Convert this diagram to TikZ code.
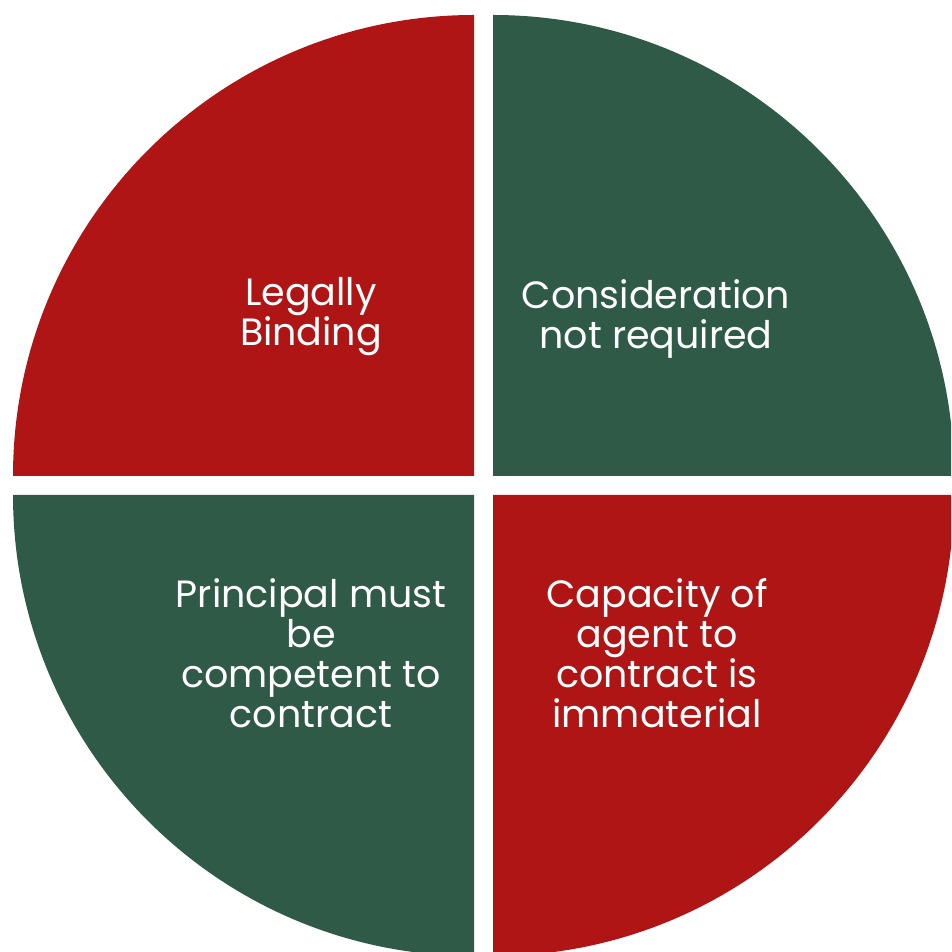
\documentclass[tikz,border=0pt]{standalone}
\usepackage{fontspec}
\setmainfont{Poppins}
\definecolor{quadred}{HTML}{B01515}
\definecolor{quadgreen}{HTML}{2F5A47}
\tikzset{
  quadlabel/.style={text=white, align=center, inner sep=0pt, font=\fontsize{38}{40}\selectfont}
}
\begin{document}
\begin{tikzpicture}[x=1pt,y=1pt]
\useasboundingbox (0,0) rectangle (951,952);
\clip (0,0) rectangle (951,952);
\fill[white] (0,0) rectangle (951,952);
% quarter circles
\fill[quadred]   (474,476) -- ++(-461,0) arc[start angle=180,end angle=90,radius=461] -- cycle;
\fill[quadgreen] (493,476) -- ++(0,461) arc[start angle=90,end angle=0,radius=461] -- cycle;
\fill[quadgreen] (474,457) -- ++(-461,0) arc[start angle=180,end angle=270,radius=461] -- cycle;
\fill[quadred]   (493,457) -- ++(461,0) arc[start angle=0,end angle=-90,radius=461] -- cycle;
% labels
\node[quadlabel] (tl) at (311,635) {Legally\\Binding};
\node[quadlabel] (tr) at (656,633) {Consideration\\not required};
\node[quadlabel] (bl) at (311,299) {Principal must\\be\\competent to\\contract};
\node[quadlabel] (br) at (657,299) {Capacity of\\agent to\\contract is\\immaterial};
\end{tikzpicture}
\end{document}
